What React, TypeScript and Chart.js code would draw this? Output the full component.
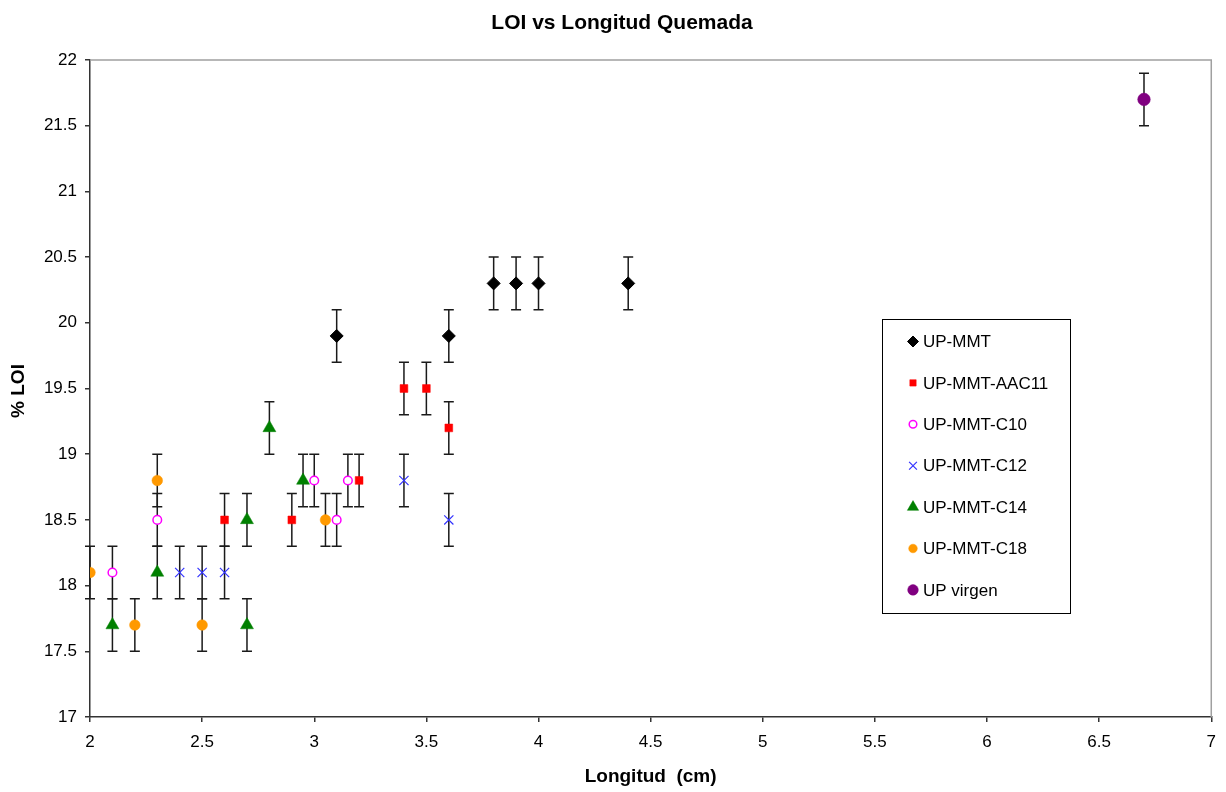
import React, { useEffect, useRef } from 'react';
import { Chart, registerables } from 'chart.js';
import { drawPoint } from 'chart.js/helpers';

Chart.register(...registerables);

const TITLE = 'LOI vs Longitud Quemada';
const X_TITLE = 'Longitud  (cm)';
const Y_TITLE = '% LOI';

const mmtX = [3.1, 3.6, 3.8, 3.9, 4.0, 4.4];
const mmtY = [19.9, 19.9, 20.3, 20.3, 20.3, 20.3];
const aac11X = [2.6, 2.9, 3.2, 3.4, 3.5, 3.6];
const aac11Y = [18.5, 18.5, 18.8, 19.5, 19.5, 19.2];
const c10X = [2.1, 2.3, 3.0, 3.1, 3.15];
const c10Y = [18.1, 18.5, 18.8, 18.5, 18.8];
const c12X = [2.4, 2.5, 2.6, 3.4, 3.6];
const c12Y = [18.1, 18.1, 18.1, 18.8, 18.5];
const c14X = [2.1, 2.3, 2.7, 2.7, 2.8, 2.95];
const c14Y = [17.7, 18.1, 17.7, 18.5, 19.2, 18.8];
const c18X = [2.0, 2.2, 2.3, 2.5, 3.05];
const c18Y = [18.1, 17.7, 18.8, 17.7, 18.5];
const virgenX = [6.7];
const virgenY = [21.7];
const ERR = 0.2;

const X_MIN = 2, X_MAX = 7, X_STEP = 0.5;
const Y_MIN = 17, Y_MAX = 22, Y_STEP = 0.5;

const FONT = '"Liberation Sans", Arial, sans-serif';

const toPts = (xs: number[], ys: number[]) => xs.map((x, i) => ({ x, y: ys[i] }));
const fmt = (v: any) => String(Math.round(Number(v) * 10) / 10);

const SERIES = [
  { label: 'UP-MMT', xs: mmtX, ys: mmtY, style: 'rectRot', r: 6.5, fill: '#000000', stroke: '#000000', bw: 1 },
  { label: 'UP-MMT-AAC11', xs: aac11X, ys: aac11Y, style: 'rect', r: 5.5, fill: '#ff0000', stroke: '#ff0000', bw: 0.5 },
  { label: 'UP-MMT-C10', xs: c10X, ys: c10Y, style: 'circle', r: 4.3, fill: '#ffffff', stroke: '#ff00ff', bw: 1.5 },
  { label: 'UP-MMT-C12', xs: c12X, ys: c12Y, style: 'crossRot', r: 6.5, fill: '#3333ff', stroke: '#3333ff', bw: 1.2 },
  { label: 'UP-MMT-C14', xs: c14X, ys: c14Y, style: 'triangle', r: 7.5, fill: '#008000', stroke: '#008000', bw: 0.5 },
  { label: 'UP-MMT-C18', xs: c18X, ys: c18Y, style: 'circle', r: 5.3, fill: '#ff9900', stroke: '#ff9900', bw: 0.5 },
  { label: 'UP virgen', xs: virgenX, ys: virgenY, style: 'circle', r: 6.3, fill: '#800080', stroke: '#800080', bw: 0.5 },
];

const errorBarPlugin = {
  id: 'errorBars',
  beforeDatasetsDraw(chart: any) {
    const { ctx, scales } = chart;
    ctx.save();
    ctx.strokeStyle = '#1a1a1a';
    ctx.lineWidth = 1.5;
    chart.data.datasets.forEach((ds: any) => {
      ds.data.forEach((p: any) => {
        const px = scales.x.getPixelForValue(p.x);
        const top = scales.y.getPixelForValue(p.y + ERR);
        const bot = scales.y.getPixelForValue(p.y - ERR);
        ctx.beginPath();
        ctx.moveTo(px, top);
        ctx.lineTo(px, bot);
        ctx.moveTo(px - 5, top);
        ctx.lineTo(px + 5, top);
        ctx.moveTo(px - 5, bot);
        ctx.lineTo(px + 5, bot);
        ctx.stroke();
      });
    });
    ctx.restore();
  },
};

const decorPlugin = {
  id: 'decor',
  beforeDatasetsDraw(chart: any) {
    const { ctx, chartArea } = chart;
    ctx.save();
    ctx.strokeStyle = '#a0a0a0';
    ctx.lineWidth = 1.5;
    ctx.beginPath();
    ctx.moveTo(chartArea.left, chartArea.top);
    ctx.lineTo(chartArea.right, chartArea.top);
    ctx.lineTo(chartArea.right, chartArea.bottom);
    ctx.stroke();
    ctx.restore();
  },
  afterDraw(chart: any) {
    const { ctx, chartArea } = chart;
    ctx.save();
    ctx.fillStyle = '#000';
    ctx.textAlign = 'center';
    ctx.textBaseline = 'middle';
    ctx.font = `bold 21px ${FONT}`;
    ctx.fillText(TITLE, 622, 23);
    ctx.font = `bold 19px ${FONT}`;
    ctx.fillText(X_TITLE, (chartArea.left + chartArea.right) / 2, 777);
    ctx.save();
    ctx.translate(19, 391);
    ctx.rotate(-Math.PI / 2);
    ctx.fillText(Y_TITLE, 0, 0);
    ctx.restore();

    // legend
    ctx.strokeStyle = '#000';
    ctx.lineWidth = 1;
    ctx.fillStyle = '#fff';
    ctx.fillRect(882.5, 319.5, 188, 294);
    ctx.strokeRect(882.5, 319.5, 188, 294);
    ctx.textAlign = 'left';
    ctx.font = `17px ${FONT}`;
    SERIES.forEach((s, i) => {
      const y = 341.5 + i * 41.4;
      ctx.fillStyle = s.fill;
      ctx.strokeStyle = s.stroke;
      ctx.lineWidth = s.bw;
      drawPoint(ctx, { pointStyle: s.style as any, radius: Math.max(s.r - 1, 3.8), rotation: 0, borderWidth: s.bw }, 913, y);
      ctx.fillStyle = '#000';
      ctx.fillText(s.label, 923, y + 1);
    });
    ctx.restore();
  },
};

export default function App() {
  const ref = useRef<HTMLCanvasElement | null>(null);
  useEffect(() => {
    if (!ref.current) return;
    Chart.defaults.font.family = FONT;
    Chart.defaults.color = '#000';
    const chart = new Chart(ref.current, {
      type: 'scatter',
      data: {
        datasets: SERIES.map((s) => ({
          label: s.label,
          data: toPts(s.xs, s.ys),
          pointStyle: s.style as any,
          pointRadius: s.r,
          pointHoverRadius: s.r,
          backgroundColor: s.fill,
          borderColor: s.stroke,
          pointBorderWidth: s.bw,
          showLine: false,
        })),
      },
      options: {
        responsive: false,
        animation: false,
        layout: { padding: { top: 60, right: 10, left: 0, bottom: 0 } },
        plugins: {
          legend: { display: false },
          title: { display: false },
          tooltip: { enabled: false },
        },
        scales: {
          x: {
            type: 'linear',
            min: X_MIN,
            max: X_MAX,
            ticks: { stepSize: X_STEP, font: { size: 17 }, color: '#000', padding: 10, maxRotation: 0, callback: fmt },
            grid: { display: true, drawOnChartArea: false, drawTicks: true, tickLength: 5, color: '#333', lineWidth: 1.5 },
            border: { display: true, color: '#333', width: 1.5 },
            afterFit: (scale: any) => { scale.height = 75; },
          },
          y: {
            type: 'linear',
            min: Y_MIN,
            max: Y_MAX,
            ticks: { stepSize: Y_STEP, font: { size: 17 }, color: '#000', padding: 8, callback: fmt },
            grid: { display: true, drawOnChartArea: false, drawTicks: true, tickLength: 5, color: '#333', lineWidth: 1.5 },
            border: { display: true, color: '#333', width: 1.5 },
            afterFit: (scale: any) => { scale.width = 90; },
          },
        },
      },
      plugins: [decorPlugin, errorBarPlugin],
    });
    return () => chart.destroy();
  }, []);
  return (
    <div style={{ position: 'absolute', left: 0, top: 0, width: 1226, height: 792, background: '#fff' }}>
      <canvas ref={ref} width={1226} height={792} style={{ width: 1226, height: 792 }} />
    </div>
  );
}
